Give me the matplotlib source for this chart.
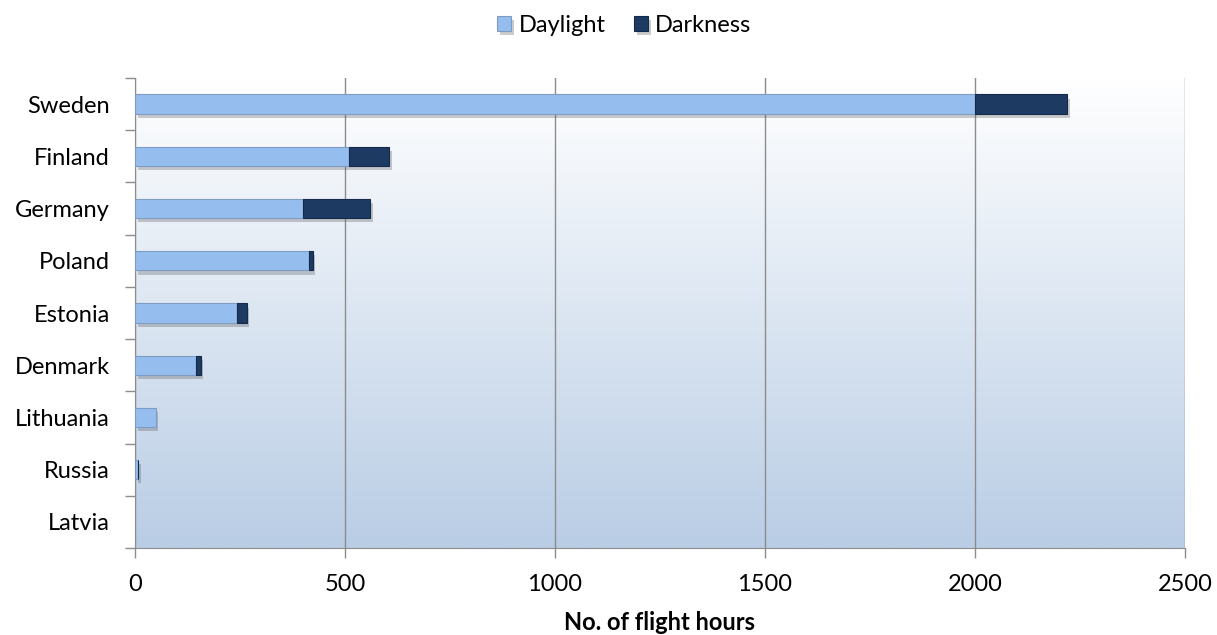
import matplotlib.pyplot as plt
import matplotlib.patheffects as pe
import numpy as np

plt.rcParams['font.family'] = ['Lato', 'DejaVu Sans']

countries = ["Sweden", "Finland", "Germany", "Poland", "Estonia",
             "Denmark", "Lithuania", "Russia", "Latvia"]
daylight = [2000, 510, 400, 415, 243, 145, 49, 6, 0]
darkness = [220, 95, 160, 8, 23, 11, 0, 1, 0]

light_blue = "#95bdee"
dark_blue = "#1d3a63"

fig = plt.figure(figsize=(12.17, 6.35), dpi=100)
ax = fig.add_axes([135 / 1217, 1 - 548 / 635, 1050 / 1217, 470 / 635])

y = np.arange(len(countries))
shadow = [pe.SimplePatchShadow(offset=(2, -3), alpha=0.3, shadow_rgbFace="#555555"), pe.Normal()]

b1 = ax.barh(y, daylight, height=0.37, color=light_blue, edgecolor="#7f9cc4",
             linewidth=0.8, zorder=3, label="Daylight")
b2 = ax.barh(y, darkness, left=daylight, height=0.37, color=dark_blue,
             edgecolor="#15294a", linewidth=0.8, zorder=3, label="Darkness")
for bar in list(b1) + list(b2):
    if bar.get_width() > 0:
        bar.set_path_effects(shadow)
    else:
        bar.set_visible(False)

ax.set_xlim(0, 2500)
ax.set_ylim(len(countries) - 0.5, -0.5)

# background gradient, white at top to pale blue at the bottom
grad = np.linspace(0, 1, 256).reshape(-1, 1)
top = np.array([1.0, 1.0, 1.0])
bottom = np.array([0xb9, 0xcd, 0xe5]) / 255
img = top + (bottom - top) * grad[..., None]
ax.imshow(img, extent=[0, 2500, len(countries) - 0.5, -0.5], aspect="auto", zorder=0)

ax.set_xticks([0, 500, 1000, 1500, 2000, 2500])
ax.xaxis.grid(True, color="#8c8c8c", linewidth=1.0, zorder=1)
ax.set_axisbelow(True)

ax.set_yticks(y)
ax.set_yticklabels(countries)
ax.set_yticks(np.arange(-0.5, len(countries), 1), minor=True)
ax.tick_params(axis="y", which="major", length=0, pad=18, labelsize=17)
ax.tick_params(axis="y", which="minor", length=7, color="#8c8c8c", width=1)
ax.tick_params(axis="x", length=7, color="#8c8c8c", width=1, pad=12, labelsize=17)

for side in ["top", "right"]:
    ax.spines[side].set_visible(False)
for side in ["left", "bottom"]:
    ax.spines[side].set_color("#8c8c8c")

ax.set_xlabel("No. of flight hours", fontsize=17, fontweight="bold", labelpad=11)

leg = fig.legend(handles=[b1, b2], loc="upper center", bbox_to_anchor=(0.513, 1.01), ncol=2,
                 frameon=False, fontsize=17, handlelength=0.6, handleheight=0.6,
                 handletextpad=0.3, columnspacing=1.2)

fig.savefig("out.png", dpi=100)
